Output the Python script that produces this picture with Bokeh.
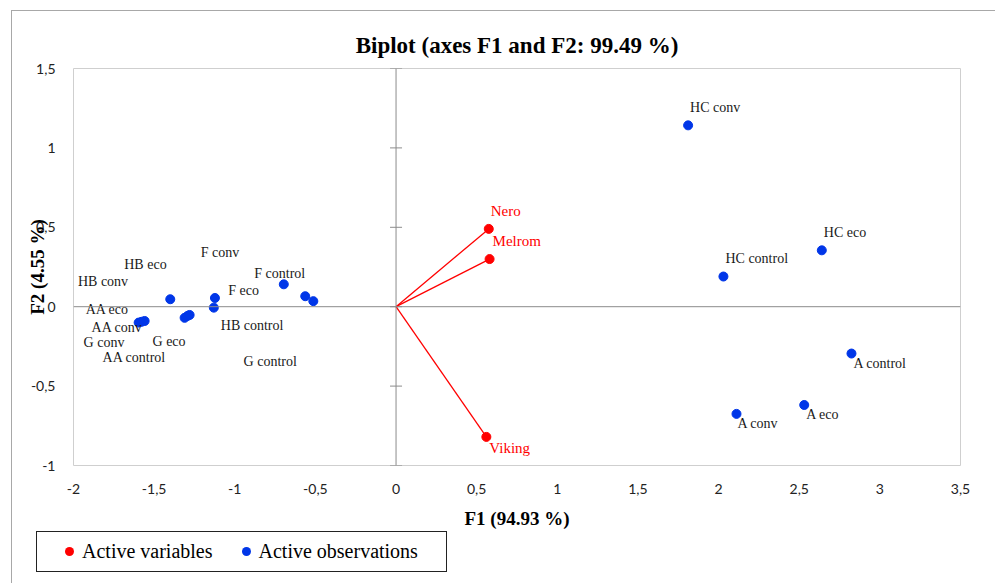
from bokeh.plotting import figure
from bokeh.layouts import column
from bokeh.models import (Range1d, FixedTicker, CustomJSTickFormatter, Span,
                          ColumnDataSource, Div)
from bokeh.core.properties import value
from bokeh.embed import file_html
from bokeh.resources import INLINE

# ---------------- data ----------------
chart_title = "Biplot (axes F1 and F2: 99.49 %)"
x_title = "F1 (94.93 %)"
y_title = "F2 (4.55 %)"
legend_labels = ["Active variables", "Active observations"]

var_names = ["Nero", "Melrom", "Viking"]
var_f1 = [0.575, 0.580, 0.560]
var_f2 = [0.490, 0.300, -0.820]

obs_names = ["HC conv", "HC eco", "HC control", "A control", "A eco", "A conv",
             "HB eco", "HB conv", "HB control", "F conv", "F control", "F eco",
             "G conv", "G eco", "G control", "AA eco", "AA conv", "AA control"]
obs_f1 = [1.811, 2.640, 2.030, 2.824, 2.531, 2.111,
          -1.400, -1.123, -1.130, -0.696, -0.563, -0.513,
          -1.311, -1.293, -1.280, -1.596, -1.578, -1.559]
obs_f2 = [1.142, 0.355, 0.190, -0.295, -0.619, -0.675,
          0.047, 0.055, -0.006, 0.141, 0.066, 0.035,
          -0.070, -0.058, -0.052, -0.100, -0.095, -0.090]

x_ticks = [-2, -1.5, -1, -0.5, 0, 0.5, 1, 1.5, 2, 2.5, 3, 3.5]
y_ticks = [-1, -0.5, 0, 0.5, 1, 1.5]

# label placement (screen pixel offsets from each point)
var_dx = [2, 3, 3]
var_dy = [-18, -18, 11]
obs_dx = [2, 2, 2, 2, 2, 1,
          -46, -137, 7, -83, -51, -85,
          -101, -35, 54, -53, -50, -42]
obs_dy = [-18, -18, -18, 10, 10, 10,
          -35, -16, 18, -32, -23, -11,
          25, 26, 47, -13, 6, 37]

# ---------------- styles ----------------
SERIF = "Liberation Serif"
TICKFONT = "Lato"
RED = "#ff0000"
BLUE = "#0036e8"
W = 995
MAIN_H = 531
LEG_H = 52

p = figure(width=W, height=MAIN_H, output_backend="svg", toolbar_location=None,
           x_range=Range1d(-2, 3.5), y_range=Range1d(-1, 1.5),
           min_border_left=73, min_border_right=35, min_border_top=68,
           min_border_bottom=65, background_fill_color="white",
           border_fill_alpha=0, outline_line_color="#cfcfcf")

p.title.text = chart_title
p.title.align = "center"
p.title.text_font = SERIF
p.title.text_font_size = "23px"
p.title.text_font_style = "bold"
p.title.text_color = "#000000"
p.title.standoff = 21

p.xgrid.visible = False
p.ygrid.visible = False

fmt = CustomJSTickFormatter(code="return tick.toString().replace('.', ',');")
for ax, ticks in ((p.xaxis[0], x_ticks), (p.yaxis[0], y_ticks)):
    ax.ticker = FixedTicker(ticks=ticks)
    ax.formatter = fmt
    ax.axis_line_color = None
    ax.major_tick_line_color = None
    ax.minor_tick_line_color = None
    ax.major_label_text_font = TICKFONT
    ax.major_label_text_font_size = "14px"
    ax.major_label_text_color = "#222222"
    ax.axis_label_text_font = SERIF
    ax.axis_label_text_font_size = "19px"
    ax.axis_label_text_font_style = "bold"
    ax.axis_label_text_color = "#000000"

p.xaxis[0].major_label_standoff = 12
p.yaxis[0].major_label_standoff = 12
p.xaxis[0].axis_label = x_title
p.xaxis[0].axis_label_standoff = 11
p.yaxis[0].axis_label = y_title
p.yaxis[0].axis_label_standoff = -20

# central axes
p.add_layout(Span(location=0, dimension="height", line_color="#8c8c8c", line_width=1))
p.add_layout(Span(location=0, dimension="width", line_color="#8c8c8c", line_width=1))
p.scatter([0] * len(y_ticks), y_ticks, marker="dash", size=12, line_color="#8c8c8c",
          line_width=1)

# variable vectors
vsrc = ColumnDataSource(dict(x=var_f1, y=var_f2, x0=[0] * 3, y0=[0] * 3,
                             name=var_names, dx=var_dx, dy=var_dy))
p.segment("x0", "y0", "x", "y", source=vsrc, line_color=RED, line_width=1.3)
p.scatter("x", "y", source=vsrc, size=9, fill_color=RED, line_color=RED)
p.text("x", "y", text="name", source=vsrc, x_offset="dx", y_offset="dy",
       text_align="left", text_baseline="middle", text_color=RED,
       text_font=value(SERIF), text_font_size="15px")

# observations
osrc = ColumnDataSource(dict(x=obs_f1, y=obs_f2, name=obs_names, dx=obs_dx, dy=obs_dy))
p.scatter("x", "y", source=osrc, size=9, fill_color=BLUE, line_color=BLUE)
p.text("x", "y", text="name", source=osrc, x_offset="dx", y_offset="dy",
       text_align="left", text_baseline="middle", text_color="#1a1a1a",
       text_font=value(SERIF), text_font_size="14px")

# ---------------- legend (HTML strip below the chart) ----------------
def dot(color, left):
    return ("<span style='display:inline-block;width:9px;height:9px;border-radius:50%;"
            f"background:{color};margin:0 8px 0 {left}px;'></span>")

legend_html = (
    "<div style=\"box-sizing:border-box;margin:0 0 0 36px;width:411px;height:41px;"
    "border:1px solid #222;display:flex;align-items:center;white-space:nowrap;"
    f"font-family:'{SERIF}';font-size:20px;color:#000;background:#fff;\">"
    f"{dot(RED, 28)}<span>{legend_labels[0]}</span>"
    f"{dot(BLUE, 29)}<span>{legend_labels[1]}</span>"
    "</div>"
)
lg = Div(text=legend_html, width=W, height=LEG_H, margin=0)

# outer chart-area border (left and top edges, as in the original)
frame_style = {
    "background-image": "linear-gradient(#a8a8a8,#a8a8a8), linear-gradient(#a8a8a8,#a8a8a8)",
    "background-size": "1px 600px, 1000px 1px",
    "background-position": "11px 10px, 11px 10px",
    "background-repeat": "no-repeat",
    "background-color": "#ffffff",
}
layout = column(p, lg, spacing=0, styles=frame_style)
open("out.html", "w").write(file_html(layout, INLINE))
